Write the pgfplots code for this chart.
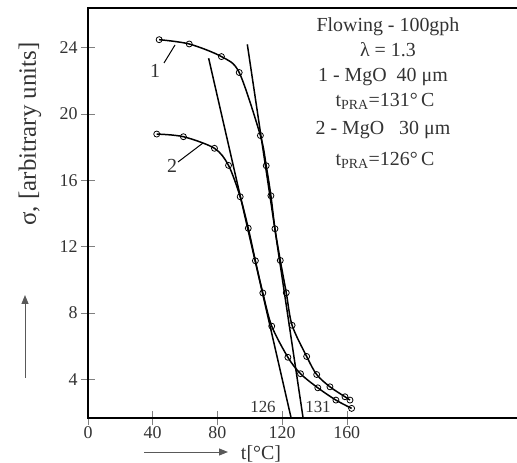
\documentclass[border=0pt]{standalone}
\usepackage{fontspec}
\setmainfont{Liberation Serif}
\usepackage{pgfplots}
\pgfplotsset{compat=1.18}
\usetikzlibrary{arrows.meta}
\definecolor{txt}{gray}{0.2}
\begin{document}
\begin{tikzpicture}
\begin{axis}[
  at={(0,0)}, anchor=south west,
  scale only axis, width=431bp, height=410bp,
  xmin=0, xmax=266.5, ymin=1.67, ymax=26.39,
  axis line style={line width=2.4pt, black},
  xtick={0,40,80,120,160}, ytick={4,8,12,16,20,24},
  xtick pos=bottom, ytick pos=left,
  tick align=center,
  major tick length=14bp,
  x tick style={gray, line width=0.5pt},
  y tick style={gray, line width=0.5pt},
  ticklabel style={font=\fontsize{18}{20}\selectfont, text=txt},
  xticklabel style={yshift=2bp},
  /pgf/number format/assume math mode=true,
  clip=false,
]
% curve 1
\addplot[black, line width=1.5pt, smooth, tension=0.5, mark=o, mark size=3bp,
  mark options={fill=white, line width=0.8pt, solid}] coordinates {
 (44.0,24.48) (62.6,24.22) (82.5,23.46) (93.5,22.50) (106.6,18.70) (110.2,16.88)
 (113.1,15.07) (115.6,13.08) (118.9,11.17) (122.6,9.22) (126.2,7.26)
 (135.2,5.38) (141.4,4.29) (149.6,3.55) (158.9,2.95) (162.0,2.75)};
% curve 2
\addplot[black, line width=1.5pt, smooth, tension=0.5, mark=o, mark size=3bp,
  mark options={fill=white, line width=0.8pt, solid}] coordinates {
 (42.5,18.79) (59.0,18.63) (78.2,17.93) (86.9,16.90) (94.1,15.01) (99.1,13.11)
 (103.5,11.15) (108.1,9.21) (113.6,7.21) (123.6,5.33) (131.4,4.34)
 (142.1,3.49) (153.3,2.75) (163.0,2.25)};
% tangent lines
\addplot[black, line width=1.5pt] coordinates {(98.5,24.2) (133.0,1.67)};
\addplot[black, line width=1.5pt] coordinates {(74.6,23.36) (125.6,1.67)};
\end{axis}
% annotations (1bp = 1px, origin at the lower-left axis corner)
\begin{scope}[every node/.style={text=txt, font=\fontsize{20}{22}\selectfont}]
\node at (300bp,391bp) {Flowing - 100gph};
\node at (300bp,368bp) {λ = 1.3};
\node at (295bp,341bp) {1 - MgO\ \ 40 μm};
\node at (297bp,317bp) {t\textsubscript{PRA}=131°\,C};
\node at (295bp,288bp) {2 - MgO\ \ \ 30 μm};
\node at (297bp,258bp) {t\textsubscript{PRA}=126°\,C};
\node at (67bp,347bp) {1};
\node at (84bp,252bp) {2};
\node[font=\fontsize{17}{19}\selectfont] at (175bp,11bp) {126};
\node[font=\fontsize{17}{19}\selectfont] at (230bp,11bp) {131};
\end{scope}
\draw[black, line width=1pt] (76bp,355bp) -- (87bp,373bp);
\draw[black, line width=1pt] (90bp,256bp) -- (115bp,275bp);
\node[rotate=90, text=txt, font=\fontsize{25}{27}\selectfont] at (-58bp,284bp) {σ, [arbitrary units]};
\draw[gray!70!black, line width=1pt, -{Triangle[length=9bp,width=7bp]}] (-63bp,40bp) -- (-63bp,123bp);
\node[text=txt, font=\fontsize{20}{22}\selectfont] at (173bp,-35.5bp) {t[°C]};
\draw[gray!70!black, line width=1pt, -{Triangle[length=9bp,width=7bp]}] (56bp,-34bp) -- (140bp,-34bp);
\pgfresetboundingbox
\path[use as bounding box] (-88bp,-45bp) rectangle (429bp,418bp);
\end{tikzpicture}
\end{document}
